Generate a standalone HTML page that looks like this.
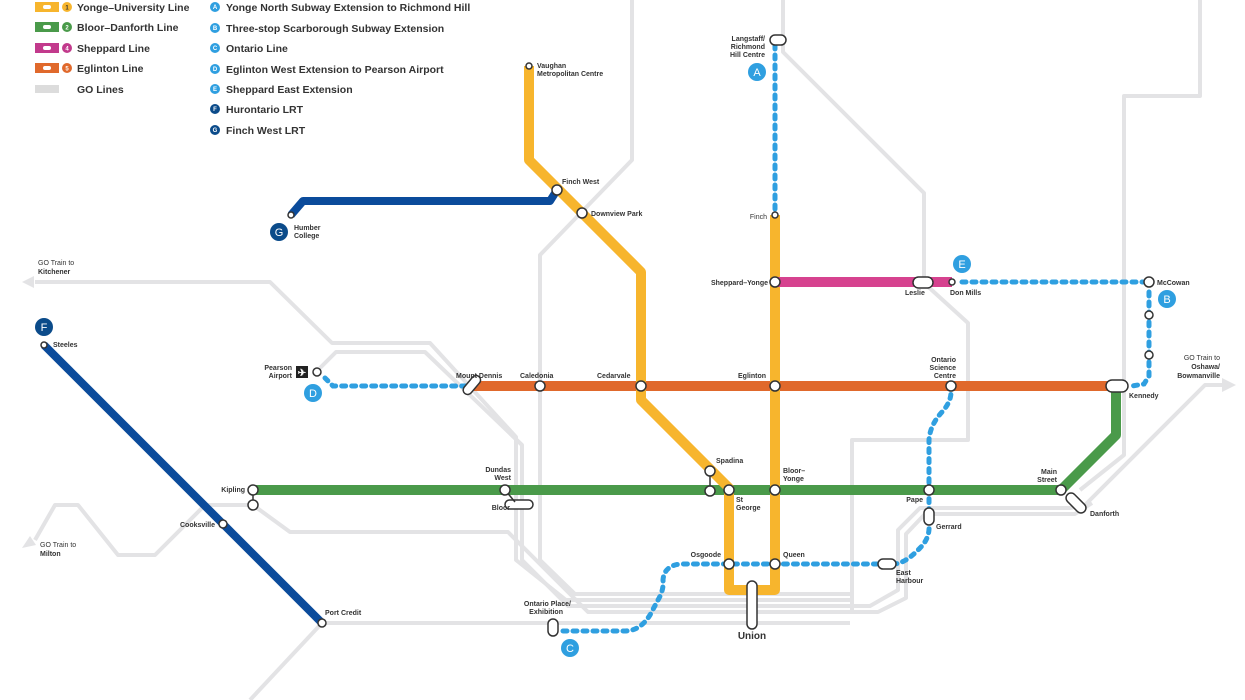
<!DOCTYPE html>
<html><head><meta charset="utf-8"><style>
html,body{margin:0;padding:0;background:#fff;width:1245px;height:700px;overflow:hidden}
svg{display:block}
text{font-family:"Liberation Sans",sans-serif;font-weight:bold;fill:#333}
.s{font-size:7px}
.lg{font-size:10.5px;fill:#333}
</style></head><body>
<svg width="1245" height="700" viewBox="0 0 1245 700" xmlns="http://www.w3.org/2000/svg">
<g fill="none" stroke="#e3e3e5" stroke-width="4" stroke-linejoin="round">
 <polyline points="35,282 270,282 332,343 430,343 516,437 516,560 566,600 850,600"/>
 <polyline points="320,368 336,352 425,352 522,445 522,560 568,606 850,606"/>
 <polyline points="632,0 632,160 540,255 540,560 575,594 850,594"/>
 <polyline points="35,540 55,505 78,505 118,555 155,555 205,505 253,505 290,532 508,532 588,612 850,612"/>
 <polyline points="322,623 850,623"/>
 <polyline points="322,623 250,700"/>
 <polyline points="783,0 783,52 924,193 924,283 968,323 968,440 852,440 852,612"/>
 <polyline points="1200,0 1200,96 1124,96 1124,455 1080,490"/>
 <polyline points="1222,385 1205,385 1085,505 1070,508 920,508 898,530 898,590 870,606 850,606"/>
 <polyline points="1092,503 1075,514 925,514 906,534 906,598 878,612 850,612"/>
</g>
<polygon points="22,282 34,276 34,288" fill="#e3e3e5"/>
<polygon points="22,548 30,536 36,545" fill="#e3e3e5"/>
<polygon points="1236,385 1222,378 1222,392" fill="#e3e3e5"/>

<polyline points="291,215 303,201 550,201 557,190" fill="none" stroke="#0b4b9b" stroke-width="8" stroke-linejoin="round"/>
<line x1="44" y1="345" x2="322" y2="623" stroke="#0b4b9b" stroke-width="8"/>
<polyline points="253,490 1061,490 1116,435 1116,386" fill="none" stroke="#4a9a4a" stroke-width="10" stroke-linejoin="round"/>
<line x1="474" y1="386" x2="1117" y2="386" stroke="#e0692c" stroke-width="10"/>
<polyline points="529,66 529,160 641,272 641,400 729,488 729,590 775,590 775,215" fill="none" stroke="#f7b52d" stroke-width="10" stroke-linejoin="round"/>
<line x1="775" y1="282" x2="952" y2="282" stroke="#d6428f" stroke-width="10"/>
<g fill="none" stroke="#2f9fe0" stroke-width="5" stroke-linecap="round" stroke-dasharray="4 6">
 <line x1="775" y1="45" x2="775" y2="212"/>
 <polyline points="962,282 1145,282"/>
 <polyline points="1149,292 1149,376 1144,384 1132,386"/>
 <polyline points="325,378 333,386 468,386"/>
 <path d="M563,631 L625,631 Q640,631 650,615 L658,600 Q664,590 663,580 Q664,566 680,564 L882,564"/>
 <path d="M893,564 Q905,564 920,548 Q930,538 929,525 L929,440 Q930,425 942,412 Q951,402 951,392"/>
</g>
<g fill="#fff" stroke="#333" stroke-width="1.5">
 <rect x="770" y="35" width="16" height="10" rx="5"/>
 <circle cx="775" cy="215" r="3"/>
 <circle cx="529" cy="66" r="3"/>
 <circle cx="557" cy="190" r="5"/>
 <circle cx="582" cy="213" r="5"/>
 <circle cx="291" cy="215" r="3"/>
 <circle cx="775" cy="282" r="5"/>
 <rect x="913" y="277" width="20" height="11" rx="5.5"/>
 <circle cx="952" cy="282" r="3"/>
 <circle cx="1149" cy="282" r="5"/>
 <circle cx="1149" cy="315" r="4"/>
 <circle cx="1149" cy="355" r="4"/>
 <rect x="1106" y="380" width="22" height="12" rx="6"/>
 <circle cx="317" cy="372" r="4"/>
 <rect x="462" y="380" width="22" height="9" rx="4.5" transform="rotate(-50 473 386)"/>
 <circle cx="540" cy="386" r="5"/>
 <circle cx="641" cy="386" r="5"/>
 <circle cx="775" cy="386" r="5"/>
 <circle cx="951" cy="386" r="5"/>
 <line x1="253" y1="490" x2="253" y2="505"/>
 <circle cx="253" cy="490" r="5"/>
 <circle cx="253" cy="505" r="5"/>
 <circle cx="44" cy="345" r="3"/>
 <circle cx="223" cy="524" r="4"/>
 <circle cx="322" cy="623" r="4"/>
 <rect x="505" y="500" width="28" height="9" rx="4.5"/>
 <line x1="505" y1="490" x2="515" y2="502"/>
 <circle cx="505" cy="490" r="5"/>
 <line x1="710" y1="472" x2="710" y2="490"/>
 <circle cx="710" cy="471" r="5"/>
 <circle cx="710" cy="491" r="5"/>
 <circle cx="729" cy="490" r="5"/>
 <circle cx="775" cy="490" r="5"/>
 <circle cx="929" cy="490" r="5"/>
 <rect x="924" y="508" width="10" height="17" rx="5"/>
 <rect x="1064" y="498" width="24" height="10" rx="5" transform="rotate(45 1076 503)"/>
 <circle cx="1061" cy="490" r="5"/>
 <circle cx="729" cy="564" r="5"/>
 <circle cx="775" cy="564" r="5"/>
 <rect x="878" y="559" width="18" height="10" rx="5"/>
 <rect x="548" y="619" width="10" height="17" rx="5"/>
 <rect x="747" y="581" width="10" height="48" rx="5"/>
</g>
<g font-family="Liberation Sans,sans-serif" font-size="11" text-anchor="middle">
 <circle cx="757" cy="72" r="9" fill="#2f9fe0"/><text x="757" y="76" style="fill:#fff;font-weight:normal">A</text>
 <circle cx="962" cy="264" r="9" fill="#2f9fe0"/><text x="962" y="268" style="fill:#fff;font-weight:normal">E</text>
 <circle cx="1167" cy="299" r="9" fill="#2f9fe0"/><text x="1167" y="303" style="fill:#fff;font-weight:normal">B</text>
 <circle cx="313" cy="393" r="9" fill="#2f9fe0"/><text x="313" y="397" style="fill:#fff;font-weight:normal">D</text>
 <circle cx="570" cy="648" r="9" fill="#2f9fe0"/><text x="570" y="652" style="fill:#fff;font-weight:normal">C</text>
 <circle cx="279" cy="232" r="9" fill="#0b4b8a"/><text x="279" y="236" style="fill:#fff;font-weight:normal">G</text>
 <circle cx="44" cy="327" r="9" fill="#0b4b8a"/><text x="44" y="331" style="fill:#fff;font-weight:normal">F</text>
</g>
<rect x="296" y="366" width="12" height="12" fill="#222"/>
<text x="302" y="376" text-anchor="middle" style="fill:#fff;font-size:10px">✈</text>
<g class="s">
 <text x="765" y="41" text-anchor="end">Langstaff/</text>
 <text x="765" y="49" text-anchor="end">Richmond</text>
 <text x="765" y="57" text-anchor="end">Hill Centre</text>
 <text x="537" y="68">Vaughan</text>
 <text x="537" y="76">Metropolitan Centre</text>
 <text x="562" y="184">Finch West</text>
 <text x="591" y="216">Downview Park</text>
 <text x="767" y="219" text-anchor="end" style="font-weight:normal">Finch</text>
 <text x="294" y="230">Humber</text>
 <text x="294" y="238">College</text>
 <text x="768" y="285" text-anchor="end">Sheppard–Yonge</text>
 <text x="905" y="295">Leslie</text>
 <text x="950" y="295">Don Mills</text>
 <text x="1157" y="285">McCowan</text>
 <text x="1220" y="360" text-anchor="end" style="font-weight:normal">GO Train to</text>
 <text x="1220" y="369" text-anchor="end">Oshawa/</text>
 <text x="1220" y="378" text-anchor="end">Bowmanville</text>
 <text x="1129" y="398">Kennedy</text>
 <text x="38" y="265" style="font-weight:normal">GO Train to</text>
 <text x="38" y="274">Kitchener</text>
 <text x="53" y="347">Steeles</text>
 <text x="292" y="370" text-anchor="end">Pearson</text>
 <text x="292" y="378" text-anchor="end">Airport</text>
 <text x="456" y="378">Mount Dennis</text>
 <text x="520" y="378">Caledonia</text>
 <text x="597" y="378">Cedarvale</text>
 <text x="738" y="378">Eglinton</text>
 <text x="956" y="362" text-anchor="end">Ontario</text>
 <text x="956" y="370" text-anchor="end">Science</text>
 <text x="956" y="378" text-anchor="end">Centre</text>
 <text x="245" y="492" text-anchor="end">Kipling</text>
 <text x="511" y="472" text-anchor="end">Dundas</text>
 <text x="511" y="480" text-anchor="end">West</text>
 <text x="510" y="510" text-anchor="end">Bloor</text>
 <text x="716" y="463">Spadina</text>
 <text x="736" y="502">St</text>
 <text x="736" y="510">George</text>
 <text x="783" y="473">Bloor–</text>
 <text x="783" y="481">Yonge</text>
 <text x="923" y="502" text-anchor="end">Pape</text>
 <text x="936" y="529">Gerrard</text>
 <text x="1057" y="474" text-anchor="end">Main</text>
 <text x="1057" y="482" text-anchor="end">Street</text>
 <text x="1090" y="516">Danforth</text>
 <text x="215" y="527" text-anchor="end">Cooksville</text>
 <text x="40" y="547" style="font-weight:normal">GO Train to</text>
 <text x="40" y="556">Milton</text>
 <text x="325" y="615">Port Credit</text>
 <text x="571" y="606" text-anchor="end">Ontario Place/</text>
 <text x="563" y="614" text-anchor="end">Exhibition</text>
 <text x="721" y="557" text-anchor="end">Osgoode</text>
 <text x="783" y="557">Queen</text>
 <text x="896" y="575">East</text>
 <text x="896" y="583">Harbour</text>
 <text x="752" y="639" text-anchor="middle" style="font-size:10px">Union</text>
</g>
<g>
 <rect x="35" y="2" width="24" height="10" fill="#f7b52d"/><rect x="43" y="5" width="8" height="4" rx="2" fill="#fff"/>
 <circle cx="67" cy="7" r="5" fill="#f7b52d"/><text x="67" y="9.5" text-anchor="middle" style="font-size:6px;fill:#333">1</text>
 <text class="lg" x="77" y="11">Yonge–University Line</text>
 <rect x="35" y="22" width="24" height="10" fill="#4a9a4a"/><rect x="43" y="25" width="8" height="4" rx="2" fill="#fff"/>
 <circle cx="67" cy="27" r="5" fill="#4a9a4a"/><text x="67" y="29.5" text-anchor="middle" style="font-size:6px;fill:#fff">2</text>
 <text class="lg" x="77" y="31">Bloor–Danforth Line</text>
 <rect x="35" y="43" width="24" height="10" fill="#c23a8c"/><rect x="43" y="46" width="8" height="4" rx="2" fill="#fff"/>
 <circle cx="67" cy="48" r="5" fill="#c23a8c"/><text x="67" y="50.5" text-anchor="middle" style="font-size:6px;fill:#fff">4</text>
 <text class="lg" x="77" y="52">Sheppard Line</text>
 <rect x="35" y="63" width="24" height="10" fill="#e0692c"/><rect x="43" y="66" width="8" height="4" rx="2" fill="#fff"/>
 <circle cx="67" cy="68" r="5" fill="#e0692c"/><text x="67" y="70.5" text-anchor="middle" style="font-size:6px;fill:#fff">5</text>
 <text class="lg" x="77" y="72">Eglinton Line</text>
 <rect x="35" y="85" width="24" height="8" fill="#dcdcdc"/>
 <text class="lg" x="77" y="93">GO Lines</text>
 <g text-anchor="middle">
 <circle cx="215" cy="7" r="5" fill="#2f9fe0"/><text x="215" y="9" style="fill:#fff;font-size:6px">A</text>
 <circle cx="215" cy="28" r="5" fill="#2f9fe0"/><text x="215" y="30" style="fill:#fff;font-size:6px">B</text>
 <circle cx="215" cy="48" r="5" fill="#2f9fe0"/><text x="215" y="50" style="fill:#fff;font-size:6px">C</text>
 <circle cx="215" cy="69" r="5" fill="#2f9fe0"/><text x="215" y="71" style="fill:#fff;font-size:6px">D</text>
 <circle cx="215" cy="89" r="5" fill="#2f9fe0"/><text x="215" y="91" style="fill:#fff;font-size:6px">E</text>
 <circle cx="215" cy="109" r="5" fill="#0b4b8a"/><text x="215" y="111" style="fill:#fff;font-size:6px">F</text>
 <circle cx="215" cy="130" r="5" fill="#0b4b8a"/><text x="215" y="132" style="fill:#fff;font-size:6px">G</text>
 </g>
 <text class="lg" x="226" y="11">Yonge North Subway Extension to Richmond Hill</text>
 <text class="lg" x="226" y="32">Three-stop Scarborough Subway Extension</text>
 <text class="lg" x="226" y="52">Ontario Line</text>
 <text class="lg" x="226" y="73">Eglinton West Extension to Pearson Airport</text>
 <text class="lg" x="226" y="93">Sheppard East Extension</text>
 <text class="lg" x="226" y="113">Hurontario LRT</text>
 <text class="lg" x="226" y="134">Finch West LRT</text>
</g>
</svg>
</body></html>
